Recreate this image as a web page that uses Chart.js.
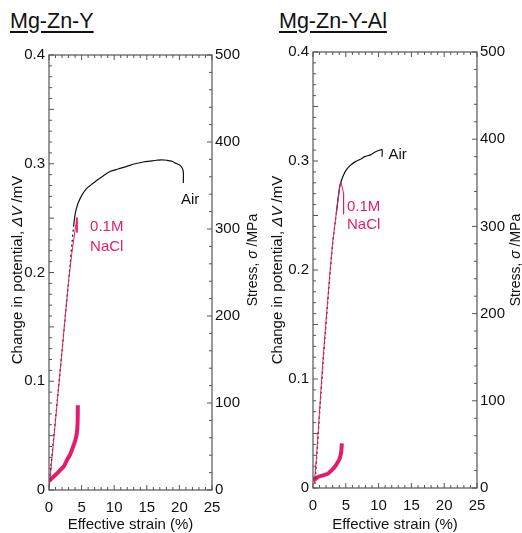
<!DOCTYPE html>
<html>
<head>
<meta charset="utf-8">
<script src="https://cdn.jsdelivr.net/npm/chart.js@4.4.1/dist/chart.umd.min.js"></script>
<style>
  html, body { margin: 0; padding: 0; background: #fff; }
  #wrap { position: relative; width: 522px; height: 533px; overflow: hidden; }
  canvas { position: absolute; top: 0; }
  #c1 { left: 0; }
  #c2 { left: 261px; }
  .ttl {
    position: absolute; top: 11px;
    font: 21.5px "Liberation Sans", Arial, sans-serif; line-height: 20px;
    color: #111; text-decoration: underline; text-underline-offset: 3px;
  }
</style>
</head>
<body>
<div id="wrap">
  <div class="ttl" style="left:10px">Mg-Zn-Y</div>
  <div class="ttl" style="left:279px">Mg-Zn-Y-Al</div>
  <canvas id="c1" width="261" height="533"></canvas>
  <canvas id="c2" width="261" height="533"></canvas>
</div>
<script>
// Mg-Zn-Y : stress (MPa) vs effective strain (%)
const mznyAirStrain = [0, 1, 2, 3, 3.77, 4.03, 4.3, 4.53, 5.05, 5.82, 6.5, 7.35, 8.3, 9.38, 10.6, 11.94, 13.2, 14.48, 15.5, 16.53, 17.3, 18.06, 18.8, 19.33, 19.9, 20.36, 20.6, 20.6];
const mznyAirStress = [5, 82, 160, 240, 303, 318, 326, 331, 339, 347, 351, 356, 361, 366, 369, 372, 375, 377, 378, 379, 379.5, 379, 378, 376, 374, 371, 366, 353];
const mznyNaclStrain = [0.05, 1, 2, 3, 3.5, 4.0, 4.29, 4.29];
const mznyNaclStress = [4, 80, 160, 240, 272, 299, 313, 296];
// Mg-Zn-Y : change in potential (mV) in NaCl
const mznyDvStrain = [0, 0.3, 0.7, 1.2, 1.73, 2.3, 2.76, 3.2, 3.52, 3.9, 4.18, 4.35, 4.4, 4.42];
const mznyDv = [0.0085, 0.010, 0.0122, 0.015, 0.0184, 0.022, 0.0276, 0.032, 0.0368, 0.043, 0.049, 0.057, 0.066, 0.078];

// Mg-Zn-Y-Al
const mznyaAirStrain = [0.3, 1.5, 2.53, 3.0, 3.55, 4.06, 4.3, 4.66, 5.1, 5.69, 6.4, 7.21, 7.9, 8.73, 9.4, 10.0, 10.52, 10.52];
const mznyaAirStress = [5, 140, 240, 280, 315, 345, 352, 359, 365, 370, 374, 377, 380, 382, 385, 387, 388, 380];
const mznyaNaclStrain = [0.2, 0.5, 1.52, 2.53, 3.0, 3.55, 4.06, 4.27, 4.66, 4.66];
const mznyaNaclStress = [5, 32, 147, 242, 282, 315, 345, 351, 338, 314];
const mznyaDvStrain = [0, 0.4, 0.76, 1.5, 2.29, 2.8, 3.3, 3.7, 4.06, 4.3, 4.4];
const mznyaDv = [0.007, 0.0085, 0.0101, 0.0115, 0.0132, 0.016, 0.0193, 0.023, 0.027, 0.033, 0.041];

const strainTicks = [0, 5, 10, 15, 20, 25];

const PINK = '#e41c6c';
const FONT = '"Liberation Sans", Arial, sans-serif';
Chart.defaults.font.family = FONT;
Chart.defaults.color = '#111';

function pts(xs, ys) {
  return xs.map((x, i) => ({ x: x, y: ys[i] }));
}

// draws a rotated title made of plain / italic parts
function drawRotated(ctx, parts, cx, cy, size) {
  ctx.save();
  ctx.translate(cx, cy);
  ctx.rotate(-Math.PI / 2);
  ctx.textBaseline = 'middle';
  ctx.fillStyle = '#111';
  let total = 0;
  parts.forEach(p => {
    ctx.font = (p.it ? 'italic ' : '') + size + 'px ' + FONT;
    p.w = ctx.measureText(p.t).width;
    total += p.w;
  });
  let x = -total / 2;
  parts.forEach(p => {
    ctx.font = (p.it ? 'italic ' : '') + size + 'px ' + FONT;
    ctx.fillText(p.t, x, 0);
    x += p.w;
  });
  ctx.restore();
}

// frame with inward ticks, axis titles and the Air / NaCl notes
function decorPlugin(cfg) {
  return {
    id: 'decor',
    afterDatasetsDraw(chart) {
      const { ctx, chartArea: a, scales } = chart;
      ctx.save();
      ctx.strokeStyle = '#555';
      ctx.lineWidth = 1.2;
      ctx.strokeRect(a.left, a.top, a.right - a.left, a.bottom - a.top);
      ctx.lineWidth = 1;
      ctx.beginPath();
      for (let v = 0; v <= 25; v++) {
        const px = scales.x.getPixelForValue(v);
        const len = v % 5 === 0 ? 5 : 3;
        ctx.moveTo(px, a.bottom); ctx.lineTo(px, a.bottom - len);
        ctx.moveTo(px, a.top); ctx.lineTo(px, a.top + len);
      }
      for (let i = 0; i <= 40; i++) {
        const py = scales.y.getPixelForValue(i / 100);
        const len = i % 5 === 0 ? 5 : 3;
        ctx.moveTo(a.left, py); ctx.lineTo(a.left + len, py);
      }
      for (let s = 0; s <= 500; s += 20) {
        const py = scales.y2.getPixelForValue(s);
        const len = s % 100 === 0 ? 5 : 3;
        ctx.moveTo(a.right, py); ctx.lineTo(a.right - len, py);
      }
      ctx.stroke();

      drawRotated(ctx, [{ t: 'Change in potential, ' }, { t: 'ΔV', it: true }, { t: ' /mV' }], cfg.leftTitleX, 270, 15);
      drawRotated(ctx, [{ t: 'Stress, ' }, { t: 'σ', it: true }, { t: ' /MPa' }], cfg.rightTitleX, 260, 14);

      ctx.font = '15px ' + FONT;
      ctx.textBaseline = 'middle';
      ctx.textAlign = 'left';
      cfg.notes.forEach(n => {
        ctx.fillStyle = n.color;
        ctx.fillText(n.text, scales.x.getPixelForValue(n.x), scales.y2.getPixelForValue(n.y));
      });
      ctx.restore();
    }
  };
}

function makePanel(id, air, nacl, dv, cfg) {
  new Chart(document.getElementById(id), {
    type: 'line',
    data: {
      datasets: [
        { data: nacl, yAxisID: 'y2', borderColor: PINK, borderWidth: 1, pointRadius: 0, tension: 0 },
        {
          data: air, yAxisID: 'y2', borderColor: '#111', borderWidth: 1.2,
          pointRadius: 0, tension: 0.3,
          segment: { borderDash: ctx => ctx.p1.parsed.x < cfg.knee ? [2, 3] : undefined }
        },
        { data: dv, yAxisID: 'y', borderColor: PINK, borderWidth: 4, pointRadius: 0, tension: 0.2 }
      ]
    },
    options: {
      responsive: false,
      animation: false,
      devicePixelRatio: 1,
      layout: { padding: { top: cfg.top, left: 0, right: 0, bottom: 0 } },
      plugins: { legend: { display: false }, tooltip: { enabled: false } },
      scales: {
        x: {
          type: 'linear', min: 0, max: 25,
          afterBuildTicks: s => { s.ticks = strainTicks.map(v => ({ value: v })); },
          afterFit: s => { s.height = cfg.xHeight; },
          grid: { display: false, drawTicks: false },
          border: { display: false },
          ticks: { padding: 9, font: { size: 15 }, color: '#111' },
          title: { display: true, text: 'Effective strain (%)', font: { size: 15, lineHeight: 1 }, color: '#111', padding: { bottom: 0.5 } }
        },
        y: {
          type: 'linear', position: 'left', min: 0, max: 0.4,
          afterFit: s => { s.width = cfg.leftW; },
          grid: { display: false, drawTicks: false },
          border: { display: false },
          ticks: { stepSize: 0.1, padding: 4, font: { size: 15 }, color: '#111' }
        },
        y2: {
          type: 'linear', position: 'right', min: 0, max: 500,
          afterFit: s => { s.width = cfg.rightW; },
          grid: { display: false, drawTicks: false },
          border: { display: false },
          ticks: { stepSize: 100, padding: 3, font: { size: 15 }, color: '#111' }
        }
      }
    },
    plugins: [decorPlugin(cfg)]
  });
}

makePanel('c1',
  pts(mznyAirStrain, mznyAirStress),
  pts(mznyNaclStrain, mznyNaclStress),
  pts(mznyDvStrain, mznyDv),
  {
    top: 55, leftW: 49, rightW: 49, xHeight: 43, knee: 3.9,
    leftTitleX: 18, rightTitleX: 253,
    notes: [
      { text: 'Air', x: 20.25, y: 333, color: '#111' },
      { text: '0.1M', x: 6.3, y: 303, color: PINK },
      { text: 'NaCl', x: 6.3, y: 280, color: PINK }
    ]
  });

makePanel('c2',
  pts(mznyaAirStrain, mznyaAirStress),
  pts(mznyaNaclStrain, mznyaNaclStress),
  pts(mznyaDvStrain, mznyaDv),
  {
    top: 52, leftW: 52, rightW: 45, xHeight: 45, knee: 4.0,
    leftTitleX: 17, rightTitleX: 255,
    notes: [
      { text: 'Air', x: 11.5, y: 382, color: '#111' },
      { text: '0.1M', x: 5.18, y: 322, color: PINK },
      { text: 'NaCl', x: 5.18, y: 302, color: PINK }
    ]
  });
</script>
</body>
</html>
